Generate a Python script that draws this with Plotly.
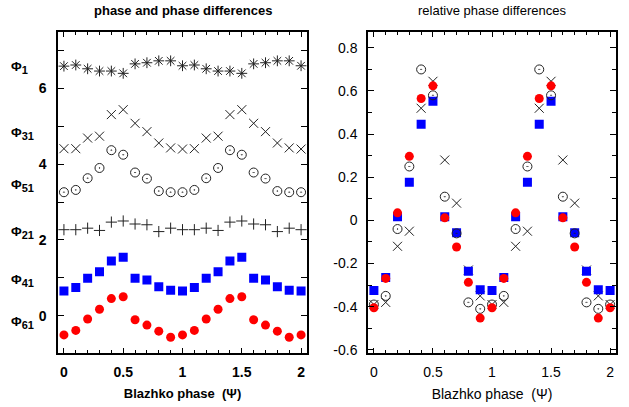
import plotly.graph_objects as go

# ---------------- data ----------------
psi = [0.0, 0.1, 0.2, 0.3, 0.4, 0.5, 0.6, 0.7, 0.8, 0.9, 1.0,
       1.1, 1.2, 1.3, 1.4, 1.5, 1.6, 1.7, 1.8, 1.9, 2.0]

# left panel: phases and phase differences
phi1 = [6.59, 6.62, 6.52, 6.46, 6.46, 6.40, 6.65, 6.68, 6.73, 6.73, 6.60,
        6.62, 6.52, 6.46, 6.46, 6.40, 6.65, 6.68, 6.73, 6.73, 6.60]
phi31 = [4.41, 4.41, 4.69, 4.74, 5.31, 5.44, 5.08, 4.86, 4.56, 4.43, 4.40,
         4.41, 4.69, 4.74, 5.31, 5.44, 5.08, 4.86, 4.56, 4.43, 4.40]
phi51 = [3.26, 3.32, 3.63, 3.90, 4.37, 4.25, 3.78, 3.62, 3.29, 3.26, 3.26,
         3.32, 3.63, 3.90, 4.37, 4.25, 3.78, 3.62, 3.29, 3.26, 3.26]
phi21 = [2.27, 2.27, 2.31, 2.25, 2.47, 2.50, 2.42, 2.40, 2.22, 2.31, 2.27,
         2.27, 2.31, 2.25, 2.47, 2.50, 2.42, 2.40, 2.22, 2.31, 2.27]
phi41 = [0.65, 0.74, 0.99, 1.16, 1.44, 1.54, 0.99, 0.94, 0.76, 0.67, 0.65,
         0.74, 0.99, 1.16, 1.44, 1.54, 0.99, 0.94, 0.76, 0.67, 0.65]
phi61 = [-0.51, -0.39, -0.09, 0.17, 0.45, 0.50, -0.11, -0.25, -0.41, -0.57, -0.51,
         -0.39, -0.09, 0.17, 0.45, 0.50, -0.11, -0.25, -0.41, -0.57, -0.51]

# right panel: relative phase differences
rel31 = [-0.39, -0.38, -0.12, -0.05, 0.52, 0.645, 0.28, 0.08, -0.23, -0.35, -0.39,
         -0.38, -0.12, -0.05, 0.52, 0.645, 0.28, 0.08, -0.23, -0.35, -0.39]
rel51 = [-0.39, -0.35, -0.04, 0.25, 0.70, 0.58, 0.11, -0.06, -0.38, -0.41, -0.39,
         -0.35, -0.04, 0.25, 0.70, 0.58, 0.11, -0.06, -0.38, -0.41, -0.39]
rel41 = [-0.325, -0.265, 0.017, 0.177, 0.446, 0.553, 0.017, -0.057, -0.236, -0.322, -0.325,
         -0.265, 0.017, 0.177, 0.446, 0.553, 0.017, -0.057, -0.236, -0.322, -0.325]
rel61 = [-0.405, -0.269, 0.035, 0.297, 0.565, 0.624, 0.012, -0.123, -0.287, -0.453, -0.405,
         -0.269, 0.035, 0.297, 0.565, 0.624, 0.012, -0.123, -0.287, -0.453, -0.405]

left_ytickvals = [0, 2, 4, 6]
left_yticktext = ["0", "2", "4", "6"]
right_ytickvals = [-0.6, -0.4, -0.2, 0, 0.2, 0.4, 0.6, 0.8]
right_yticktext = ["-0.6", "-0.4", "-0.2", "0", "0.2", "0.4", "0.6", "0.8"]
xtickvals = [0, 0.5, 1, 1.5, 2]
xticktext = ["0", "0.5", "1", "1.5", "2"]

phi_subscripts = ["1", "31", "51", "21", "41", "61"]
phi_label_y = [6.55, 4.82, 3.43, 2.19, 0.94, -0.19]

BLACK = "#222222"
BLUE = "#0000ff"
RED = "#ff0000"
FONT = "Liberation Sans, Arial, sans-serif"

fig = go.Figure()

def add(x, y, sym, color, size, xa, ya, lw=1):
    fig.add_trace(go.Scatter(
        x=x, y=y, mode="markers", xaxis=xa, yaxis=ya, showlegend=False,
        marker=dict(symbol=sym, size=size, color=color,
                    line=dict(color=color, width=lw)),
        hoverinfo="skip"))

# left panel
add(psi, phi1, "asterisk-open", BLACK, 9, "x", "y")
add(psi, phi31, "x-thin-open", BLACK, 9, "x", "y")
add(psi, phi51, "circle-open-dot", BLACK, 9, "x", "y")
add(psi, phi21, "cross-thin-open", BLACK, 8, "x", "y")
add(psi, phi41, "square", BLUE, 9, "x", "y", 0)
add(psi, phi61, "circle", RED, 9, "x", "y", 0)

# right panel
add(psi, rel31, "x-thin-open", BLACK, 9, "x2", "y2")
add(psi, rel41, "square", BLUE, 9, "x2", "y2", 0)
add(psi, rel51, "circle-open-dot", BLACK, 9, "x2", "y2")
add(psi, rel61, "circle", RED, 9, "x2", "y2", 0)

W, H = 629, 407
def px(v):
    return v / W
def py(v):
    return 1 - v / H

lx0, lx1 = px(58), px(307)
rx0, rx1 = px(368), px(616)
yb, yt = py(357), py(32)

common_x = dict(
    range=[-0.05, 2.05], tickmode="array", tickvals=xtickvals, ticktext=xticktext,
    ticks="inside", ticklen=6, tickwidth=1, tickcolor="black",
    showline=True, linecolor="black", linewidth=1.5, mirror="allticks",
    showgrid=False, zeroline=False, ticklabelstandoff=5,
    minor=dict(dtick=0.1, tick0=0, ticks="inside", ticklen=4, tickcolor="black", tickwidth=1),
)

fig.update_layout(
    width=W, height=H,
    margin=dict(l=0, r=0, t=0, b=0),
    paper_bgcolor="white", plot_bgcolor="white",
    font=dict(family=FONT, color="black", size=13),
    xaxis=dict(domain=[lx0, lx1], anchor="y",
               tickfont=dict(family=FONT, size=14, weight="bold"),
               title=dict(text="<b>Blazhko phase  (Ψ)</b>", standoff=10,
                          font=dict(family=FONT, size=13)),
               **common_x),
    yaxis=dict(domain=[yb, yt], anchor="x", range=[-1.0, 7.5],
               tickmode="array", tickvals=left_ytickvals, ticktext=left_yticktext,
               tickfont=dict(family=FONT, size=14, weight="bold"),
               ticks="inside", ticklen=6, tickwidth=1, tickcolor="black",
               showline=True, linecolor="black", linewidth=1.5, mirror="allticks",
               showgrid=False, zeroline=False, ticklabelstandoff=7,
               minor=dict(dtick=1, tick0=0, ticks="inside", ticklen=6,
                          tickcolor="black", tickwidth=1)),
    xaxis2=dict(domain=[rx0, rx1], anchor="y2",
                tickfont=dict(family=FONT, size=14),
                title=dict(text="Blazhko phase  (Ψ)", standoff=10,
                           font=dict(family=FONT, size=14)),
                **common_x),
    yaxis2=dict(domain=[yb, yt], anchor="x2", range=[-0.617, 0.875],
                tickmode="array", tickvals=right_ytickvals, ticktext=right_yticktext,
                tickfont=dict(family=FONT, size=14),
                ticks="inside", ticklen=6, tickwidth=1, tickcolor="black",
                showline=True, linecolor="black", linewidth=1.5, mirror="allticks",
                showgrid=False, zeroline=False, ticklabelstandoff=6,
                minor=dict(dtick=0.1, tick0=0, ticks="inside", ticklen=4,
                           tickcolor="black", tickwidth=1)),
)

annotations = [
    dict(text="<b>phase and phase differences</b>", x=(lx0 + lx1) / 2, y=py(11),
         xref="paper", yref="paper", showarrow=False, xanchor="center", yanchor="middle",
         font=dict(family=FONT, size=13)),
    dict(text="relative phase differences", x=(rx0 + rx1) / 2, y=py(11),
         xref="paper", yref="paper", showarrow=False, xanchor="center", yanchor="middle",
         font=dict(family=FONT, size=13)),
]
for sub, yy in zip(phi_subscripts, phi_label_y):
    txt = "<b>Φ<sub><span style='font-size:11px'>" + sub + "</span></sub></b>"
    annotations.append(dict(text=txt, x=px(9), y=yy, xref="paper", yref="y",
                            showarrow=False, xanchor="left", yanchor="middle",
                            font=dict(family=FONT, size=13)))
fig.update_layout(annotations=annotations)

fig.write_html("out.html", config={"displayModeBar": False},
               post_script="document.body.style.margin='0';")
